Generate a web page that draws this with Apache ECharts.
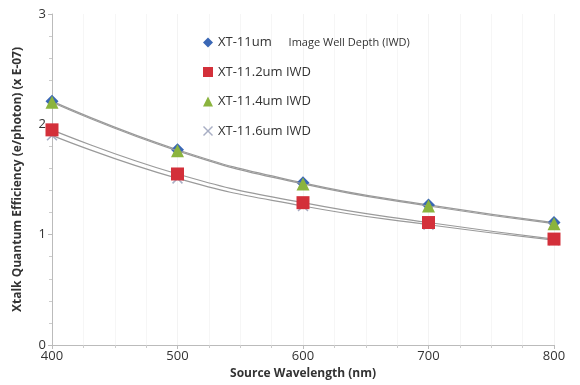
<!DOCTYPE html>
<html>
<head>
<meta charset="utf-8">
<script src="https://cdn.jsdelivr.net/npm/echarts@6/dist/echarts.min.js"></script>
<style>
  html, body { margin: 0; padding: 0; background: #fff; }
  #main { width: 580px; height: 385px; }
</style>
</head>
<body>
<div id="main"></div>
<script>
// wavelength (nm)
var wavelengths = [400, 500, 600, 700, 800];
// crosstalk QE (x E-07)
var xt11 = [2.21, 1.77, 1.47, 1.27, 1.11];
var xt112 = [1.95, 1.55, 1.29, 1.11, 0.96];
var xt114 = [2.2, 1.76, 1.46, 1.26, 1.1];
var xt116 = [1.9, 1.51, 1.26, 1.09, 0.95];
var seriesNames = ['XT-11um', 'XT-11.2um IWD', 'XT-11.4um IWD', 'XT-11.6um IWD'];

var crossPath = 'path://M0,1L1,0L5,4L9,0L10,1L6,5L10,9L9,10L5,6L1,10L0,9L4,5Z';

function pairs(ys) {
  return wavelengths.map(function (x, i) { return [x, ys[i]]; });
}

function makeSeries(name, ys, symbol, size, color, z) {
  return {
    name: name,
    type: 'line',
    data: pairs(ys),
    smooth: 0.5,
    symbol: symbol,
    symbolSize: size,
    z: z,
    lineStyle: { color: '#9a9a9a', width: 1.2 },
    itemStyle: { color: color, opacity: 1 },
    emphasis: { disabled: true }
  };
}

var myChart = echarts.init(document.getElementById('main'));

var option = {
  animation: false,
  grid: { left: 52, right: 26, top: 14, bottom: 40 },
  legend: {
    orient: 'vertical',
    left: 198,
    top: 31,
    itemWidth: 10,
    itemHeight: 10,
    itemGap: 16.5,
    textStyle: {
      fontFamily: 'Open Sans',
      fontSize: 13,
      color: '#333',
      rich: {
        a: { fontFamily: 'Open Sans', fontSize: 13, color: '#333' },
        b: { fontFamily: 'Open Sans', fontSize: 11, color: '#333' }
      }
    },
    formatter: function (name) {
      if (name === 'XT-11um') return '{a|XT-11um}     {b|Image Well Depth (IWD)}';
      return name;
    },
    data: [
      { name: seriesNames[0], icon: 'diamond', itemStyle: { color: '#3a67b5' } },
      { name: seriesNames[1], icon: 'rect', itemStyle: { color: '#d3303a' } },
      { name: seriesNames[2], icon: 'triangle', itemStyle: { color: '#8bb43e' } },
      { name: seriesNames[3], icon: crossPath, itemStyle: { color: '#a8aec4' } }
    ]
  },
  xAxis: {
    type: 'value',
    min: 400,
    max: 800,
    interval: 100,
    name: 'Source Wavelength (nm)',
    nameLocation: 'middle',
    nameGap: 22,
    nameTextStyle: { fontFamily: 'Open Sans', fontWeight: 'bold', fontSize: 12, color: '#333' },
    axisLine: { lineStyle: { color: '#bbb' } },
    axisTick: { show: true, length: 4, lineStyle: { color: '#bbb' } },
    minorTick: { show: true, splitNumber: 4, length: 3, lineStyle: { color: '#ccc' } },
    axisLabel: { fontFamily: 'Open Sans', fontSize: 13, color: '#333', margin: 5 },
    splitLine: { show: true, lineStyle: { color: '#f3f3f3' } },
    minorSplitLine: { show: true, lineStyle: { color: '#f6f6f6' } }
  },
  yAxis: {
    type: 'value',
    min: 0,
    max: 3,
    interval: 1,
    name: 'Xtalk Quantum Efficiency (e/photon) (x E-07)',
    nameLocation: 'middle',
    nameGap: 28,
    nameTextStyle: { fontFamily: 'Open Sans', fontWeight: 'bold', fontSize: 12, color: '#333' },
    axisLine: { show: true, lineStyle: { color: '#bbb' } },
    axisTick: { show: true, length: 4, lineStyle: { color: '#bbb' } },
    minorTick: { show: true, splitNumber: 5, length: 3, lineStyle: { color: '#ccc' } },
    axisLabel: { fontFamily: 'Open Sans', fontSize: 13, color: '#333', margin: 6 },
    splitLine: { show: false }
  },
  series: [
    makeSeries(seriesNames[0], xt11, 'diamond', 13, '#3a67b5', 2),
    makeSeries(seriesNames[1], xt112, 'rect', 13, '#d3303a', 3),
    makeSeries(seriesNames[2], xt114, 'triangle', 13, '#8bb43e', 4),
    makeSeries(seriesNames[3], xt116, crossPath, 11, '#a8aec4', 1)
  ]
};

myChart.setOption(option);
</script>
</body>
</html>
